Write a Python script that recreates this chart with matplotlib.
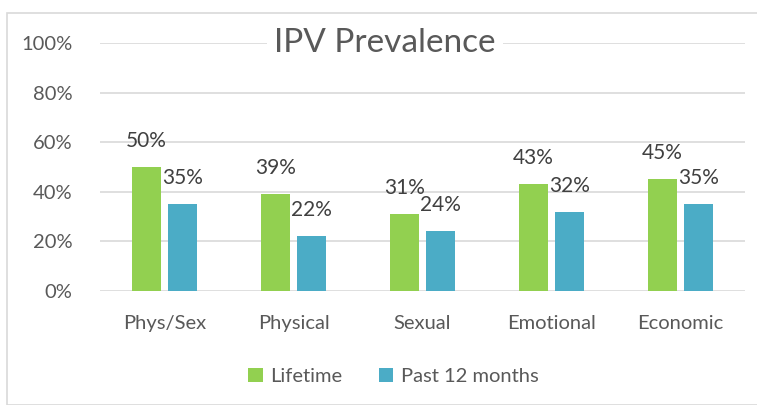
import matplotlib.pyplot as plt
import numpy as np
from matplotlib.patches import Rectangle

categories = ["Phys/Sex", "Physical", "Sexual", "Emotional", "Economic"]
lifetime = [0.50, 0.39, 0.31, 0.43, 0.45]
past12 = [0.35, 0.22, 0.24, 0.32, 0.35]

green = "#92D050"
teal = "#4BACC6"
txt = "#595959"

plt.rcParams['font.family'] = ['Lato', 'DejaVu Sans']

fig = plt.figure(figsize=(7.57, 4.05), dpi=100)
ax = fig.add_axes([100/757, 1-291/405, 645/757, 248/405])

x = np.arange(len(categories))
w = 0.225
b1 = ax.bar(x - 0.14, lifetime, w, color=green, zorder=3)
b2 = ax.bar(x + 0.14, past12, w, color=teal, zorder=3)

for bars in (b1, b2):
    for r in bars:
        ax.text(r.get_x() + r.get_width()/2, r.get_height() + 0.065,
                f"{r.get_height()*100:.0f}%", ha="center", va="bottom",
                fontsize=15, color="#404040")

ax.set_xlim(-0.5, len(categories) - 0.5)
ax.set_ylim(0, 1.0)
ax.set_yticks(np.arange(0, 1.01, 0.2))
ax.set_yticklabels([f"{v}%" for v in range(0, 101, 20)])
ax.set_xticks(x)
ax.set_xticklabels(categories)
ax.tick_params(axis="both", length=0, labelsize=14.5, colors=txt)
ax.tick_params(axis="y", pad=20)
ax.tick_params(axis="x", pad=17)
ax.grid(axis="y", color="#D9D9D9", linewidth=1.2, zorder=0)
for s in ax.spines.values():
    s.set_visible(False)

ax.text(0.442, 1.0, "IPV Prevalence", transform=ax.transAxes, ha="center",
        va="center", fontsize=24, color=txt, zorder=5,
        bbox=dict(facecolor="white", edgecolor="none", pad=5))

fig.legend([b1, b2], ["Lifetime", "Past 12 months"], loc="center",
           bbox_to_anchor=(0.52, 0.071), ncol=2, frameon=False,
           fontsize=14.5, labelcolor=txt, handlelength=0.7, handleheight=0.7,
           columnspacing=1.8, handletextpad=0.4)

fig.patches.append(Rectangle((7/757, 0), 1 - 7/757 + 0.01, 1 - 13/405,
                             transform=fig.transFigure, fill=False,
                             edgecolor="#D9D9D9", linewidth=1.2))

fig.savefig("out.png", dpi=100)
